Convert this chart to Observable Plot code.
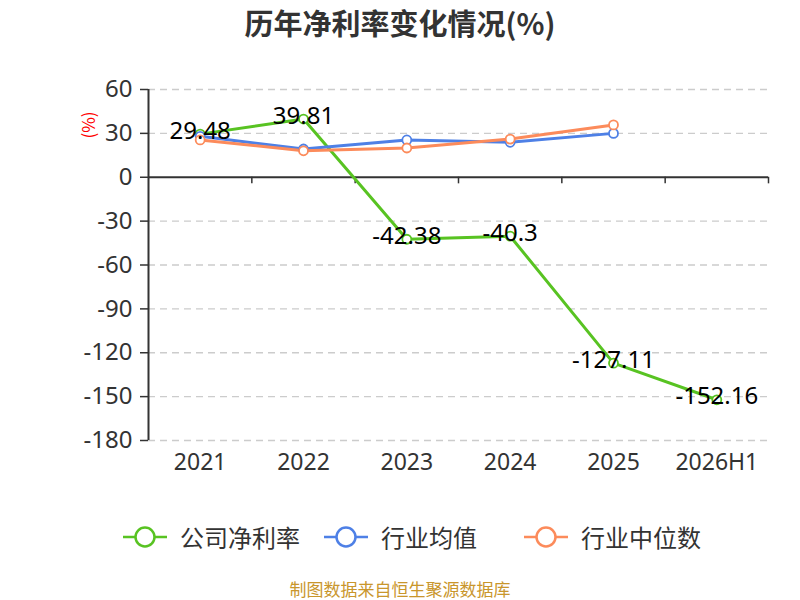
<!DOCTYPE html>
<html>
<head>
<meta charset="utf-8">
<script src="https://cdn.jsdelivr.net/npm/d3@7"></script>
<script src="https://cdn.jsdelivr.net/npm/@observablehq/plot@0.6"></script>
<style>
  body { margin: 0; width: 800px; height: 600px; position: relative; background: #fff; font-family: "Noto Sans CJK SC", "Noto Sans", sans-serif; overflow: hidden; }
  #title { position: absolute; top: 8px; left: 0; width: 800px; text-align: center; font-size: 29px; line-height: 29px; font-weight: bold; color: #333; }
  #chart { position: absolute; top: 50px; left: 0; }
  #unit { position: absolute; left: 74px; top: 112px; color: red; font-size: 17px; line-height: 26px; transform: rotate(-90deg); transform-origin: center; }
  .item { position: absolute; top: 525px; display: flex; align-items: center; font-size: 24px; line-height: 24px; color: #333; }
  .item svg { margin-right: 12px; }
  #caption { position: absolute; top: 579px; left: 0; width: 800px; text-align: center; font-size: 17px; line-height: 19px; color: #c9962c; }
</style>
</head>
<body>
<div id="title">历年净利率变化情况(%)</div>
<div id="chart"></div>
<div id="unit">(%)</div>
<div id="legend"></div>
<div id="caption">制图数据来自恒生聚源数据库</div>
<script>
const years = ["2021", "2022", "2023", "2024", "2025", "2026H1"];
const company = [29.48, 39.81, -42.38, -40.3, -127.11, -152.16];
const industryAvg = [28, 19.3, 25.5, 23.9, 30];
const industryMedian = [25.5, 18.1, 20, 26.1, 35.8];
const yTicks = [60, 30, 0, -30, -60, -90, -120, -150, -180];
const seriesNames = ["公司净利率", "行业均值", "行业中位数"];
const colors = ["#58c322", "#4e80e6", "#fc8b5b"];

const rows = [];
company.forEach((v, i) => rows.push({s: seriesNames[0], i, v}));
industryAvg.forEach((v, i) => rows.push({s: seriesNames[1], i, v}));
industryMedian.forEach((v, i) => rows.push({s: seriesNames[2], i, v}));
const compRows = rows.filter(d => d.s === seriesNames[0]);
const boundaries = years.map((_, i) => i + 0.5);

const chart = Plot.plot({
  width: 800,
  height: 440,
  marginLeft: 148,
  marginRight: 32,
  marginTop: 39,
  marginBottom: 50,
  style: {fontFamily: '"Noto Sans", "Noto Sans CJK SC", sans-serif', background: "transparent"},
  x: {type: "linear", domain: [-0.5, years.length - 0.5]},
  y: {type: "linear", domain: [-180, 60]},
  color: {domain: seriesNames, range: colors},
  marks: [
    Plot.ruleY(yTicks.filter(t => t !== 0), {x1: -0.5, x2: years.length - 0.5, stroke: "#cccccc", strokeDasharray: "7,5", strokeWidth: 1.3}),
    Plot.axisY({ticks: yTicks, tickSize: 8, tickPadding: 8, fontSize: 24, color: "#333", strokeWidth: 1.5, label: null, tickFormat: d => String(d)}),
    Plot.ruleX([-0.5], {y1: -180, y2: 60, stroke: "#333", strokeWidth: 2}),
    Plot.ruleY([0], {stroke: "#333", strokeWidth: 2}),
    Plot.ruleX(boundaries, {x: d => d, y1: 0, y2: -4.5, stroke: "#333", strokeWidth: 1.5}),
    Plot.axisX({ticks: years.map((_, i) => i), tickFormat: i => years[i], tickSize: 0, tickPadding: 13, fontSize: 23, color: "#333", label: null}),
    Plot.line(rows, {x: "i", y: "v", z: "s", stroke: "s", strokeWidth: 3}),
    Plot.dot(rows, {x: "i", y: "v", stroke: "s", fill: "white", r: 4.5, strokeWidth: 1.8}),
    Plot.text(compRows, {x: "i", y: "v", text: d => String(d.v), fill: "black", fontSize: 24, dy: -3})
  ]
});
document.getElementById("chart").appendChild(chart);

const legendLefts = [122, 323, 523];
const legend = document.getElementById("legend");
seriesNames.forEach((name, k) => {
  const item = document.createElement("div");
  item.className = "item";
  item.style.left = legendLefts[k] + "px";
  item.innerHTML = `<svg width="46" height="24"><line x1="1" y1="12" x2="45" y2="12" stroke="${colors[k]}" stroke-width="2.5"/><circle cx="23" cy="12" r="9.5" fill="white" stroke="${colors[k]}" stroke-width="2.5"/></svg><span>${name}</span>`;
  legend.appendChild(item);
});
</script>
</body>
</html>
